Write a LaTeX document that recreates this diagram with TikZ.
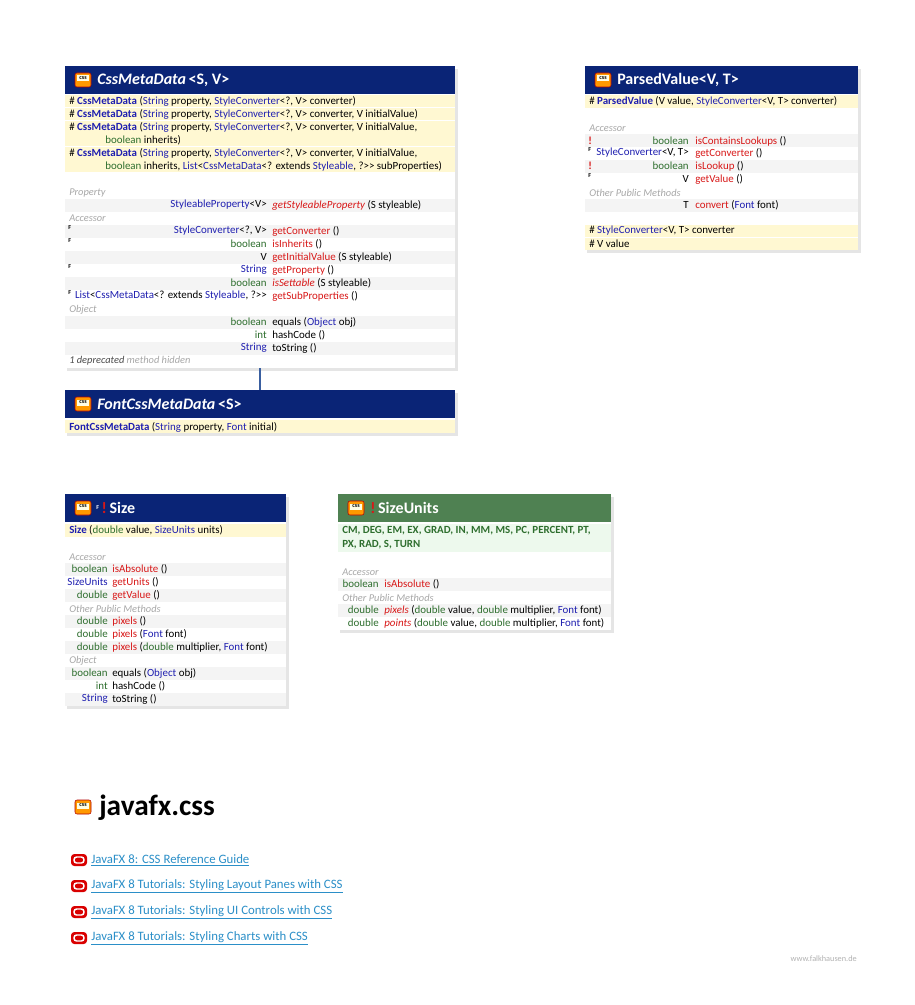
\documentclass[tikz,border=0pt]{standalone}
\usepackage{fontspec}
\setmainfont{Carlito}
\begin{document}
\begin{tikzpicture}[x=0.75pt,y=-0.75pt,
 every node/.style={inner sep=0pt,font=\fontsize{8.2}{9}\selectfont},
 ret/.style={anchor=east},
 nm/.style={anchor=west},
 cat/.style={anchor=west,text=catgray,font=\fontsize{7.8}{9}\selectfont\itshape},
 hdr/.style={anchor=west,text=white,font=\fontsize{12}{14}\selectfont\bfseries},
 lnk/.style={anchor=west,text=linkblue,font=\fontsize{9.6}{11}\selectfont}]
\definecolor{navy}{HTML}{0A2476}
\definecolor{gr}{HTML}{4F8152}
\definecolor{yel}{HTML}{FFF8D2}
\definecolor{strp}{HTML}{F4F4F4}
\definecolor{lgreen}{HTML}{EDF9ED}
\definecolor{tb}{HTML}{1F1FB0}
\definecolor{tg}{HTML}{2E6E2E}
\definecolor{tr}{HTML}{D81818}
\definecolor{catgray}{HTML}{A8A8A8}
\definecolor{linkblue}{HTML}{2B8FC8}
\definecolor{conn}{HTML}{3A5FA0}
\newcommand{\B}[1]{\textcolor{tb}{#1}}
\newcommand{\G}[1]{\textcolor{tg}{#1}}
\newcommand{\R}[1]{\textcolor{tr}{#1}}
\newcommand{\Fm}{\raisebox{0.5ex}{\fontsize{4.5}{5}\selectfont\bfseries F}}
\newcommand{\Ex}{\textcolor{tr}{\bfseries !}}
\newcommand{\cssicon}[2]{%
 \fill[orange!80!yellow,rounded corners=1.5] (#1-8,#2-7) rectangle (#1+8,#2+7);
 \draw[red!70!black,rounded corners=1.5] (#1-8,#2-7) rectangle (#1+8,#2+7);
 \fill[white!90!yellow] (#1-6,#2-4.5) rectangle (#1+6,#2+1.5);
 \node[font=\fontsize{4.5}{5}\selectfont\bfseries] at (#1,#2-1.5) {css};}
\newcommand{\oraicon}[2]{%
 \fill[red!85!black,rounded corners=2.5] (#1-8,#2-6) rectangle (#1+8,#2+6);
 \draw[white,line width=1.1pt,rounded corners=2] (#1-5,#2-3) rectangle (#1+5,#2+3);}
\newcommand{\umlbox}[4]{% x1 y1 x2 y2
 \fill[black!10] (#1+2,#2+3) rectangle (#3+3,#4+3);
 \fill[white] (#1,#2) rectangle (#3,#4);}
\useasboundingbox (0,0) rectangle (914,1005);
\fill[white] (0,0) rectangle (914,1005);
% ===== CssMetaData
\umlbox{65}{66}{455}{368}
\fill[navy] (65,66) rectangle (455,94);
\cssicon{83}{80}
\node[hdr] at (97,80) {\itshape CssMetaData\normalfont\bfseries\,{<}S, V{>}};
\foreach \y in {101,114} {\fill[yel] (65,\y-6) rectangle (455,\y+6);}
\fill[yel] (65,121) rectangle (455,146);
\fill[yel] (65,147) rectangle (455,172);
\node[nm] at (69,101) {\# \B{\bfseries CssMetaData} (\B{String} property, \B{StyleConverter}{<}?, V{>} converter)};
\node[nm] at (69,114) {\# \B{\bfseries CssMetaData} (\B{String} property, \B{StyleConverter}{<}?, V{>} converter, V initialValue)};
\node[nm] at (69,127) {\# \B{\bfseries CssMetaData} (\B{String} property, \B{StyleConverter}{<}?, V{>} converter, V initialValue,};
\node[nm] at (105,140) {\G{boolean} inherits)};
\node[nm] at (69,153) {\# \B{\bfseries CssMetaData} (\B{String} property, \B{StyleConverter}{<}?, V{>} converter, V initialValue,};
\node[nm] at (105,166) {\G{boolean} inherits, \B{List}{<}\B{CssMetaData}{<}? extends \B{Styleable}, ?{>}{>} subProperties)};
\node[cat] at (69,193) {Property};
\fill[strp] (65,199) rectangle (455,212);
\node[ret] at (267,205) {\B{StyleableProperty}{<}V{>}};
\node[nm] at (272,205) {\R{\itshape getStyleableProperty} (S styleable)};
\node[cat] at (69,218) {Accessor};
\fill[strp] (65,225) rectangle (455,238);
\fill[strp] (65,251) rectangle (455,264);
\fill[strp] (65,277) rectangle (455,290);
\node[ret] at (267,231) {\B{StyleConverter}{<}?, V{>}}; \node[nm] at (272,231) {\R{getConverter} ()};
\node[ret] at (267,244) {\G{boolean}}; \node[nm] at (272,244) {\R{isInherits} ()};
\node[ret] at (267,257) {V}; \node[nm] at (272,257) {\R{getInitialValue} (S styleable)};
\node[ret] at (267,270) {\B{String}}; \node[nm] at (272,270) {\R{getProperty} ()};
\node[ret] at (267,283) {\G{boolean}}; \node[nm] at (272,283) {\R{\itshape isSettable} (S styleable)};
\node[ret] at (267,296) {\B{List}{<}\B{CssMetaData}{<}? extends \B{Styleable}, ?{>}{>}}; \node[nm] at (272,296) {\R{getSubProperties} ()};
\foreach \y in {229,242,268,294} {\node[anchor=west] at (68,\y) {\Fm};}
\node[cat] at (69,310) {Object};
\fill[strp] (65,316) rectangle (455,329);
\fill[strp] (65,342) rectangle (455,355);
\node[ret] at (267,322) {\G{boolean}}; \node[nm] at (272,322) {equals (\B{Object} obj)};
\node[ret] at (267,335) {\G{int}}; \node[nm] at (272,335) {hashCode ()};
\node[ret] at (267,348) {\B{String}}; \node[nm] at (272,348) {toString ()};
\node[cat] at (69,361) {\textcolor{black!70}{1 deprecated} method hidden};
% connector
\coordinate (cA) at (260,368); \coordinate (cB) at (260,390);
\draw[conn,line width=2pt] (cA) -- (cB);
% ===== FontCssMetaData
\umlbox{65}{390}{455}{433}
\fill[navy] (65,390) rectangle (455,418);
\cssicon{83}{404}
\node[hdr] at (97,404) {\itshape FontCssMetaData\normalfont\bfseries\,{<}S{>}};
\fill[yel] (65,420) rectangle (455,433);
\node[nm] at (69,427) {\B{\bfseries FontCssMetaData} (\B{String} property, \B{Font} initial)};
% ===== ParsedValue
\umlbox{585}{66}{858}{250}
\fill[navy] (585,66) rectangle (858,94);
\cssicon{603}{80}
\node[hdr] at (617,80) {ParsedValue\normalfont\bfseries{<}V, T{>}};
\fill[yel] (585,95) rectangle (858,108);
\node[nm] at (589,101) {\# \B{\bfseries ParsedValue} (V value, \B{StyleConverter}{<}V, T{>} converter)};
\node[cat] at (589,128) {Accessor};
\fill[strp] (585,134) rectangle (858,147);
\fill[strp] (585,160) rectangle (858,173);
\node[ret] at (689,141) {\G{boolean}}; \node[nm] at (695,141) {\R{isContainsLookups} ()};
\node[ret] at (689,153) {\B{StyleConverter}{<}V, T{>}}; \node[nm] at (695,153) {\R{getConverter} ()};
\node[ret] at (689,166) {\G{boolean}}; \node[nm] at (695,166) {\R{isLookup} ()};
\node[ret] at (689,179) {V}; \node[nm] at (695,179) {\R{getValue} ()};
\node[anchor=west] at (588,141) {\Ex}; \node[anchor=west] at (588,166) {\Ex};
\node[anchor=west] at (588,151) {\Fm}; \node[anchor=west] at (588,177) {\Fm};
\node[cat] at (589,193) {Other Public Methods};
\fill[strp] (585,199) rectangle (858,212);
\node[ret] at (689,205) {T}; \node[nm] at (695,205) {\R{convert} (\B{Font} font)};
\fill[yel] (585,225) rectangle (858,237);
\fill[yel] (585,238) rectangle (858,250);
\node[nm] at (589,231) {\# \B{StyleConverter}{<}V, T{>} converter};
\node[nm] at (589,244) {\# V value};
% ===== Size
\umlbox{65}{494}{286}{706}
\fill[navy] (65,494) rectangle (286,522);
\cssicon{83}{508}
\node[hdr] at (96,508) {\Fm\,\textcolor{tr}{!}\,Size};
\fill[yel] (65,524) rectangle (286,537);
\node[nm] at (69,530) {\B{\bfseries Size} (\G{double} value, \B{SizeUnits} units)};
\node[cat] at (69,557) {Accessor};
\fill[strp] (65,563) rectangle (286,576);
\fill[strp] (65,589) rectangle (286,602);
\node[ret] at (108,569) {\G{boolean}}; \node[nm] at (112,569) {\R{isAbsolute} ()};
\node[ret] at (108,582) {\B{SizeUnits}}; \node[nm] at (112,582) {\R{getUnits} ()};
\node[ret] at (108,595) {\G{double}}; \node[nm] at (112,595) {\R{getValue} ()};
\node[cat] at (69,609) {Other Public Methods};
\fill[strp] (65,615) rectangle (286,628);
\fill[strp] (65,641) rectangle (286,654);
\node[ret] at (108,621) {\G{double}}; \node[nm] at (112,621) {\R{pixels} ()};
\node[ret] at (108,634) {\G{double}}; \node[nm] at (112,634) {\R{pixels} (\B{Font} font)};
\node[ret] at (108,647) {\G{double}}; \node[nm] at (112,647) {\R{pixels} (\G{double} multiplier, \B{Font} font)};
\node[cat] at (69,661) {Object};
\fill[strp] (65,667) rectangle (286,680);
\fill[strp] (65,693) rectangle (286,706);
\node[ret] at (108,673) {\G{boolean}}; \node[nm] at (112,673) {equals (\B{Object} obj)};
\node[ret] at (108,686) {\G{int}}; \node[nm] at (112,686) {hashCode ()};
\node[ret] at (108,699) {\B{String}}; \node[nm] at (112,699) {toString ()};
% ===== SizeUnits
\umlbox{338}{494}{611}{630}
\fill[gr] (338,494) rectangle (611,522);
\cssicon{356}{508}
\node[hdr] at (370,508) {\textcolor{tr}{!}\,SizeUnits};
\fill[lgreen] (338,524) rectangle (611,552);
\node[nm,text=tg,font=\fontsize{8.2}{9}\selectfont\bfseries] at (342,531) {CM, DEG, EM, EX, GRAD, IN, MM, MS, PC, PERCENT, PT,};
\node[nm,text=tg,font=\fontsize{8.2}{9}\selectfont\bfseries] at (342,545) {PX, RAD, S, TURN};
\node[cat] at (342,572) {Accessor};
\fill[strp] (338,578) rectangle (611,591);
\node[ret] at (379,584) {\G{boolean}}; \node[nm] at (384,584) {\R{isAbsolute} ()};
\node[cat] at (342,598) {Other Public Methods};
\fill[strp] (338,604) rectangle (611,617);
\node[ret] at (379,610) {\G{double}}; \node[nm] at (384,610) {\R{\itshape pixels} (\G{double} value, \G{double} multiplier, \B{Font} font)};
\node[ret] at (379,623) {\G{double}}; \node[nm] at (384,623) {\R{\itshape points} (\G{double} value, \G{double} multiplier, \B{Font} font)};
% ===== footer
\cssicon{83}{807}
\node[anchor=west,font=\fontsize{22}{24}\selectfont\bfseries] (title) at (99,808) {javafx.css};
\oraicon{79}{860} \node[lnk] (l1) at (91,860) {\underline{JavaFX 8: CSS Reference Guide}};
\oraicon{79}{886} \node[lnk] (l2) at (91,886) {\underline{JavaFX 8 Tutorials: Styling Layout Panes with CSS}};
\oraicon{79}{912} \node[lnk] (l3) at (91,912) {\underline{JavaFX 8 Tutorials: Styling UI Controls with CSS}};
\oraicon{79}{938} \node[lnk] (l4) at (91,938) {\underline{JavaFX 8 Tutorials: Styling Charts with CSS}};
\node[anchor=east,text=black!30,font=\fontsize{6.2}{7}\selectfont] (wm) at (857,959) {www.falkhausen.de};
\end{tikzpicture}
\end{document}
